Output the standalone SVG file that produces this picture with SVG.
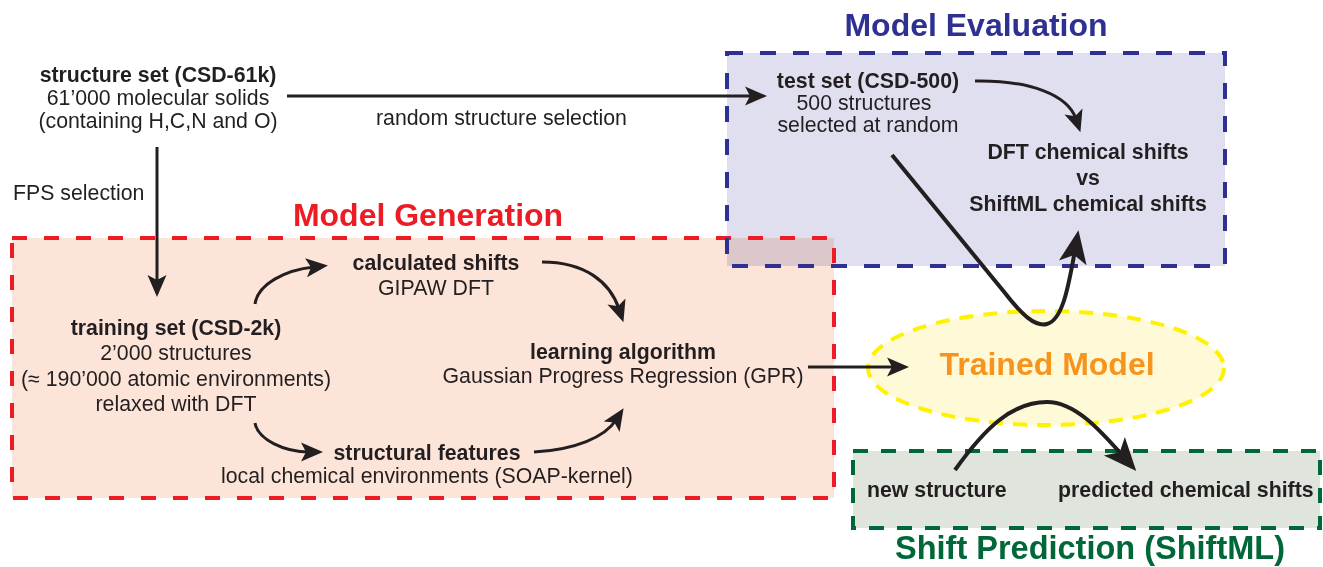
<svg xmlns="http://www.w3.org/2000/svg" width="1323" height="567" viewBox="0 0 1323 567">
<style>
text{font-family:"Liberation Sans",Arial,sans-serif;fill:#231f20;font-size:21.3px}
.b{font-weight:bold}
.m{text-anchor:middle}
.title{font-weight:bold;font-size:32px}
.conn{fill:none;stroke:#231f20;stroke-width:3}
.thick{stroke-width:4}
</style>
<defs>
<marker id="ah" viewBox="-24 -12 26 24" markerWidth="26" markerHeight="24" refX="-14" refY="0" markerUnits="userSpaceOnUse" orient="auto" overflow="visible">
<path d="M0,0 L-22,-9.5 L-17,0 L-22,9.5 Z" fill="#231f20"/>
</marker>
<marker id="ahb" viewBox="-36 -16 38 32" markerWidth="38" markerHeight="32" refX="-20" refY="0" markerUnits="userSpaceOnUse" orient="auto" overflow="visible">
<path d="M0,0 L-33,-14 L-25,0 L-33,14 Z" fill="#231f20"/>
</marker>
</defs>

<g id="gen-box">
<rect x="12" y="238" width="822" height="260" fill="#fce4d9"/>
</g>
<g id="eval-box">
<rect x="727" y="53" width="498" height="213" fill="#dfdfef" style="mix-blend-mode:multiply"/>
</g>
<rect x="12" y="238" width="822" height="260" fill="none" stroke="#ed1c24" stroke-width="4" stroke-dasharray="15 17"/>
<rect x="727" y="53" width="498" height="213" fill="none" stroke="#2e3192" stroke-width="4" stroke-dasharray="16 17"/>

<g id="pred-box">
<rect x="853" y="451" width="467" height="77" fill="#dfe5dc" stroke="#006838" stroke-width="4" stroke-dasharray="15 13"/>
</g>

<g id="trained-model">
<ellipse cx="1046" cy="368" rx="178" ry="57" fill="#fef9d7" stroke="#fff200" stroke-width="4" stroke-dasharray="14 10"/>
<text class="title m" x="1047" y="375" style="fill:#f7941d">Trained Model</text>
</g>

<text id="title-gen" class="title m" x="428" y="226" style="fill:#ed1c24">Model Generation</text>
<text id="title-eval" class="title m" x="976" y="36" style="fill:#2e3192">Model Evaluation</text>
<text id="title-pred" class="title m" x="1090" y="559" style="fill:#006838;font-size:32.5px">Shift Prediction (ShiftML)</text>

<g id="structure-set">
<text class="b m" x="158" y="82">structure set (CSD-61k)</text>
<text class="m" x="158" y="105">61’000 molecular solids</text>
<text class="m" x="158" y="128">(containing H,C,N and O)</text>
</g>

<g id="training-set">
<text class="b m" x="176" y="335">training set (CSD-2k)</text>
<text class="m" x="176" y="360">2’000 structures</text>
<text class="m" x="176" y="386">(≈ 190’000 atomic environments)</text>
<text class="m" x="176" y="411">relaxed with DFT</text>
</g>

<g id="calculated-shifts">
<text class="b m" x="436" y="270">calculated shifts</text>
<text class="m" x="436" y="295">GIPAW DFT</text>
</g>

<g id="structural-features">
<text class="b m" x="427" y="460">structural features</text>
<text class="m" x="427" y="483">local chemical environments (SOAP-kernel)</text>
</g>

<g id="learning-algorithm">
<text class="b m" x="623" y="359">learning algorithm</text>
<text class="m" x="623" y="383">Gaussian Progress Regression (GPR)</text>
</g>

<g id="test-set">
<text class="b m" x="868" y="88">test set (CSD-500)</text>
<text class="m" x="864" y="110">500 structures</text>
<text class="m" x="868" y="132">selected at random</text>
</g>

<g id="comparison">
<text class="b m" x="1088" y="159">DFT chemical shifts</text>
<text class="b m" x="1088" y="185">vs</text>
<text class="b m" x="1088" y="211">ShiftML chemical shifts</text>
</g>

<g id="new-structure">
<text class="b" x="867" y="497">new structure</text>
</g>
<g id="predicted-shifts">
<text class="b" x="1058" y="497">predicted chemical shifts</text>
</g>

<g id="connectors">
<path class="conn" d="M287,96 L753,96" marker-end="url(#ah)"/>
<text x="376" y="125">random structure selection</text>
<path class="conn" d="M157,147 L157,283" marker-end="url(#ah)"/>
<text x="13" y="200">FPS selection</text>
<path class="conn" d="M975,81 C1030,80 1068,95 1076,119" marker-end="url(#ah)"/>
<path class="conn" d="M255,304 C258,284 285,270 314,267" marker-end="url(#ah)"/>
<path class="conn" d="M255,423 C258,440 285,452 309,452" marker-end="url(#ah)"/>
<path class="conn" d="M542,262 C585,262 610,282 619,309" marker-end="url(#ah)"/>
<path class="conn" d="M534,452 C575,450 605,437 616,420" marker-end="url(#ah)"/>
<path class="conn" d="M808,367 L895,367" marker-end="url(#ah)"/>
<path class="conn thick" d="M892,155 L1005,293 C1022,315 1035,327 1047,324 C1062,320 1068,290 1075,250" marker-end="url(#ahb)"/>
<path class="conn thick" d="M955,470 C985,428 1012,402 1047,402 C1075,402 1100,430 1123,456" marker-end="url(#ahb)"/>
</g>
</svg>
